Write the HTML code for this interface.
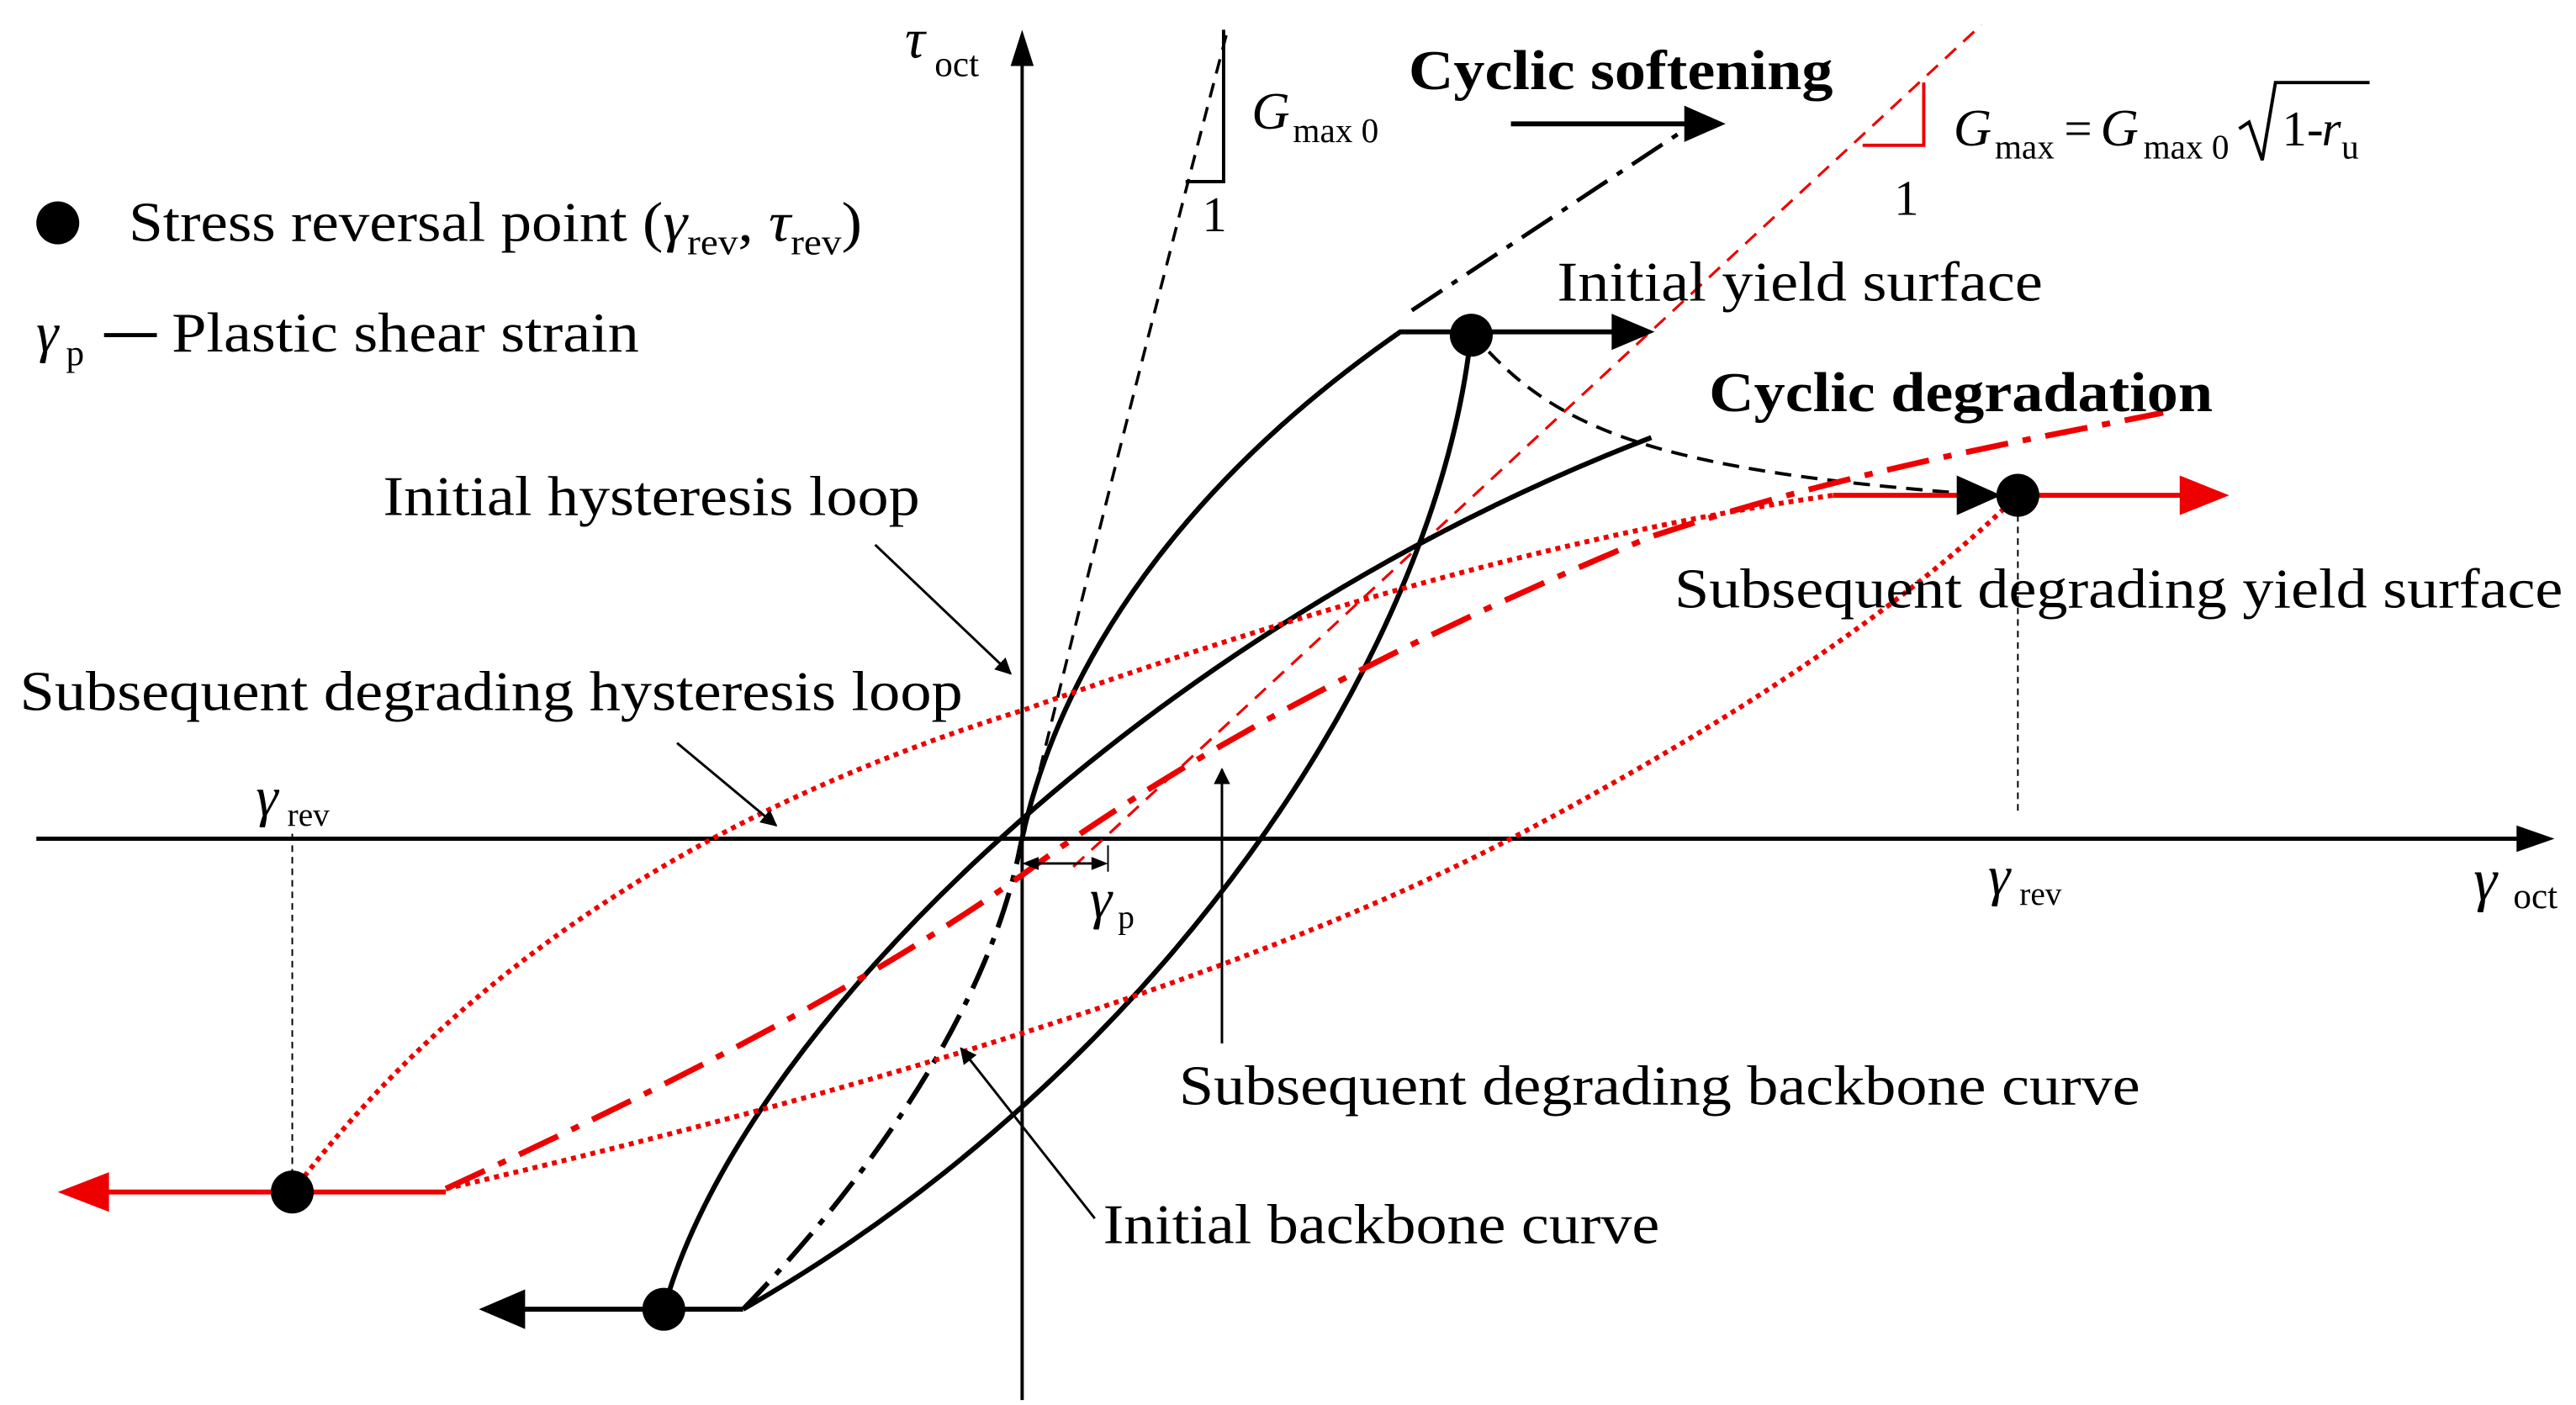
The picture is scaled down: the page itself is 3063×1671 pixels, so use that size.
<!DOCTYPE html>
<html><head><meta charset="utf-8"><style>
html,body{margin:0;padding:0;background:#fff;}
svg{display:block;}
text{font-family:"Liberation Serif",serif;fill:#000;}
</style></head><body>
<svg width="3063" height="1671" viewBox="0 0 1560 851" preserveAspectRatio="none" xmlns="http://www.w3.org/2000/svg">
<defs>
<marker id="ab" markerWidth="10" markerHeight="10" refX="9" refY="5" orient="auto" markerUnits="userSpaceOnUse"><path d="M0,0 L10,5 L0,10 z" fill="#000"/></marker>
</defs>
<!-- axes -->
<line x1="22" y1="508" x2="1530" y2="508" stroke="#000" stroke-width="2.5"/>
<path d="M1547,508 L1524,500 L1524,516 z" fill="#000"/>
<line x1="619" y1="848" x2="619" y2="35" stroke="#000" stroke-width="2"/>
<path d="M619,18 L612,40 L626,40 z" fill="#000"/>
<text x="548" y="35" font-size="34" font-style="italic">τ</text><text x="566" y="46" font-size="22">oct</text>
<text x="1498" y="545" font-size="36" font-style="italic">γ</text><text x="1522" y="550" font-size="22">oct</text>

<!-- Gmax0 dashed -->
<path d="M619,510 Q680,260 744,16" fill="none" stroke="#000" stroke-width="1.8" stroke-dasharray="9,6"/>
<polyline points="741,18 741,110 718,110" fill="none" stroke="#000" stroke-width="2"/>
<text x="728" y="140" font-size="30">1</text>
<text x="758" y="78" font-size="32" font-style="italic">G</text><text x="783" y="86" font-size="21">max 0</text>

<text x="853" y="54" font-size="34" font-weight="bold" textLength="257" lengthAdjust="spacingAndGlyphs">Cyclic softening</text>
<line x1="915" y1="75" x2="1025" y2="75" stroke="#000" stroke-width="3"/>
<path d="M1045,75 L1020,64 L1020,86 z" fill="#000"/>

<!-- red dashed Gmax -->
<line x1="650" y1="525" x2="1200" y2="15" stroke="#e00" stroke-width="1.6" stroke-dasharray="9,6"/>
<polyline points="1165,50 1165,88 1128,88" fill="none" stroke="#e00" stroke-width="2"/>
<text x="1147" y="130" font-size="30">1</text>
<text x="1183" y="88" font-size="32" font-style="italic">G</text><text x="1208" y="96" font-size="21">max</text>
<text x="1250" y="88" font-size="30">=</text>
<text x="1272" y="88" font-size="32" font-style="italic">G</text><text x="1298" y="96" font-size="21">max 0</text>
<path d="M1356,78 L1362,74 L1370,97 L1378,50 L1435,50" fill="none" stroke="#000" stroke-width="2"/>
<text x="1382" y="88" font-size="30">1-</text><text x="1406" y="88" font-size="30" font-style="italic">r</text><text x="1418" y="96" font-size="21">u</text>

<!-- legend -->
<circle cx="35" cy="135" r="13" fill="#000"/>
<text x="78" y="146" font-size="34" textLength="444" lengthAdjust="spacingAndGlyphs">Stress reversal point (<tspan font-style="italic">γ</tspan><tspan font-size="22" dy="8">rev</tspan><tspan dy="-8">, </tspan><tspan font-style="italic">τ</tspan><tspan font-size="22" dy="8">rev</tspan><tspan dy="-8">)</tspan></text>
<text x="22" y="213" font-size="34" font-style="italic">γ</text><text x="40" y="221" font-size="22">p</text>
<line x1="63" y1="203" x2="95" y2="203" stroke="#000" stroke-width="2.5"/>
<text x="104" y="213" font-size="34" textLength="283" lengthAdjust="spacingAndGlyphs">Plastic shear strain</text>

<!-- black loop -->
<path d="M402,793 C450,620 700,380 1000,265" fill="none" stroke="#000" stroke-width="3"/>
<path d="M891,201 C870,400 700,650 450,793" fill="none" stroke="#000" stroke-width="3"/>
<path d="M617,517 C640,400 720,290 848,201 L891,201" fill="none" stroke="#000" stroke-width="3"/>
<line x1="450" y1="793" x2="315" y2="793" stroke="#000" stroke-width="3"/>
<path d="M290,793 L318,781 L318,805 z" fill="#000"/>
<!-- initial backbone dash-dot -->
<path d="M450,793 C540,700 600,600 617,517" fill="none" stroke="#000" stroke-width="3" stroke-dasharray="22,7,4,7"/>
<path d="M855,188 L1018,80" fill="none" stroke="#000" stroke-width="2.5" stroke-dasharray="22,7,4,7"/>
<!-- top arrow -->
<line x1="891" y1="201" x2="980" y2="201" stroke="#000" stroke-width="3"/>
<path d="M1002,201 L976,190 L976,212 z" fill="#000"/>
<circle cx="891" cy="203" r="13" fill="#000"/>
<circle cx="402" cy="793" r="13" fill="#000"/>
<!-- degradation dashed curve -->
<path d="M891,201 C940,260 1000,285 1205,300" fill="none" stroke="#000" stroke-width="2" stroke-dasharray="10,6"/>

<!-- red dash-dot subsequent backbone -->
<path d="M270,720 C400,660 520,600 619,530 C700,470 820,400 1000,325 C1120,285 1220,268 1310,250" fill="none" stroke="#e00" stroke-width="3.5" stroke-dasharray="26,9,5,9"/>
<!-- red dotted loop -->
<path d="M177,722 Q330,520 620,430 Q900,330 1110,300" fill="none" stroke="#e00" stroke-width="3" stroke-dasharray="3,3"/>
<path d="M270,720 Q700,620 915,508 Q1120,400 1222,300" fill="none" stroke="#e00" stroke-width="3" stroke-dasharray="3,3"/>
<line x1="1110" y1="300" x2="1195" y2="300" stroke="#e00" stroke-width="3"/>
<path d="M1212,300 L1185,288 L1185,312 z" fill="#000"/>
<line x1="1222" y1="300" x2="1325" y2="300" stroke="#e00" stroke-width="3"/>
<path d="M1350,300 L1320,288 L1320,312 z" fill="#e00"/>
<line x1="60" y1="722" x2="270" y2="722" stroke="#e00" stroke-width="3"/>
<path d="M35,722 L66,710 L66,734 z" fill="#e00"/>
<circle cx="1222" cy="300" r="13" fill="#000"/>
<circle cx="177" cy="722" r="13" fill="#000"/>

<!-- vertical thin dashed -->
<line x1="177" y1="505" x2="177" y2="712" stroke="#000" stroke-width="1" stroke-dasharray="4,3"/>
<line x1="1222" y1="312" x2="1222" y2="492" stroke="#000" stroke-width="1" stroke-dasharray="4,3"/>
<text x="155" y="494" font-size="34" font-style="italic">γ</text><text x="174" y="500" font-size="20">rev</text>
<text x="1204" y="542" font-size="34" font-style="italic">γ</text><text x="1223" y="548" font-size="20">rev</text>

<!-- gamma p -->
<line x1="622" y1="523" x2="668" y2="523" stroke="#000" stroke-width="1.5"/>
<path d="M619,523 L629,519 L629,527 z" fill="#000"/>
<path d="M671,523 L661,519 L661,527 z" fill="#000"/>
<line x1="671" y1="512" x2="671" y2="528" stroke="#000" stroke-width="1"/>
<text x="660" y="556" font-size="34" font-style="italic">γ</text><text x="677" y="562" font-size="20">p</text>

<!-- labels -->
<text x="943" y="182" font-size="34" textLength="294" lengthAdjust="spacingAndGlyphs">Initial yield surface</text>
<text x="1035" y="249" font-size="34" font-weight="bold" textLength="305" lengthAdjust="spacingAndGlyphs">Cyclic degradation</text>
<text x="232" y="312" font-size="34" textLength="325" lengthAdjust="spacingAndGlyphs">Initial hysteresis loop</text>
<line x1="530" y1="330" x2="612" y2="408" stroke="#000" stroke-width="1.5" marker-end="url(#ab)"/>
<text x="12" y="430" font-size="34" textLength="571" lengthAdjust="spacingAndGlyphs">Subsequent degrading hysteresis loop</text>
<line x1="410" y1="450" x2="470" y2="500" stroke="#000" stroke-width="1.5" marker-end="url(#ab)"/>
<text x="1014" y="368" font-size="34" textLength="538" lengthAdjust="spacingAndGlyphs">Subsequent degrading yield surface</text>
<text x="714" y="669" font-size="34" textLength="582" lengthAdjust="spacingAndGlyphs">Subsequent degrading backbone curve</text>
<line x1="740" y1="632" x2="740" y2="466" stroke="#000" stroke-width="1.5" marker-end="url(#ab)"/>
<text x="668" y="753" font-size="34" textLength="337" lengthAdjust="spacingAndGlyphs">Initial backbone curve</text>
<line x1="663" y1="738" x2="582" y2="635" stroke="#000" stroke-width="1.5" marker-end="url(#ab)"/>
</svg>
</body></html>
